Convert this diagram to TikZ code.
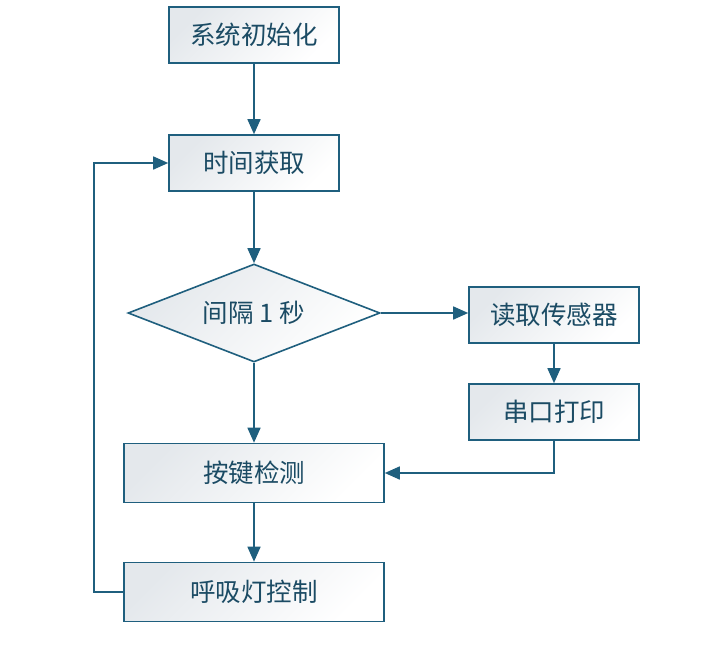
\documentclass[tikz,border=0pt]{standalone}
\usepackage{fontspec}
\setmainfont{Noto Sans CJK SC}
\usepackage{xcolor}
\usepackage{tikz}
\usetikzlibrary{shapes.geometric,arrows.meta}
\definecolor{lineblue}{HTML}{1F5F7E}
\definecolor{textblue}{HTML}{1B4B64}
\definecolor{boxgray}{HTML}{E4E8EC}

\begin{document}
\begin{tikzpicture}[x=1pt,y=-1pt]
        \useasboundingbox (0,0) rectangle (707,651);
        \tikzstyle{every node}=[draw=lineblue, line width=1.6pt, text=textblue,
            top color=boxgray, bottom color=white, shading angle=45,
            font=\fontsize{25.5}{30}\selectfont, inner sep=0pt]
        \tikzstyle{smallbox}=[rectangle, minimum width=170pt, minimum height=56pt]
        \tikzstyle{bigbox}=[rectangle, minimum width=260pt, minimum height=59pt]
        \node[smallbox] (init)   at (254, 35)  {系统初始化};
        \node[smallbox] (time)   at (254, 163) {时间获取};
        \node[diamond, aspect=2.57, minimum width=252pt, minimum height=98pt] (gap) at (254, 313) {间隔 1 秒};
        \node[smallbox] (sensor) at (554, 315) {读取传感器};
        \node[smallbox] (uart)   at (554, 412) {串口打印};
        \node[bigbox]   (key)    at (254, 473) {按键检测};
        \node[bigbox]   (led)    at (254, 592) {呼吸灯控制};
        \tikzstyle{every path}=[-{Triangle[length=15pt,width=13pt]}, draw=lineblue, line width=1.6pt]
        \draw (init) -- (time);
        \draw (time) -- (gap);
        \draw (gap) -- (gap -| sensor.west);
        \draw (sensor) -- (uart);
        \draw (gap) -- (key);
        \draw (uart) |- (key);
        \draw (key) -- (led);
        \draw (led.west) -- (94, 592) |- (time.west);
    \end{tikzpicture}
\end{document}
